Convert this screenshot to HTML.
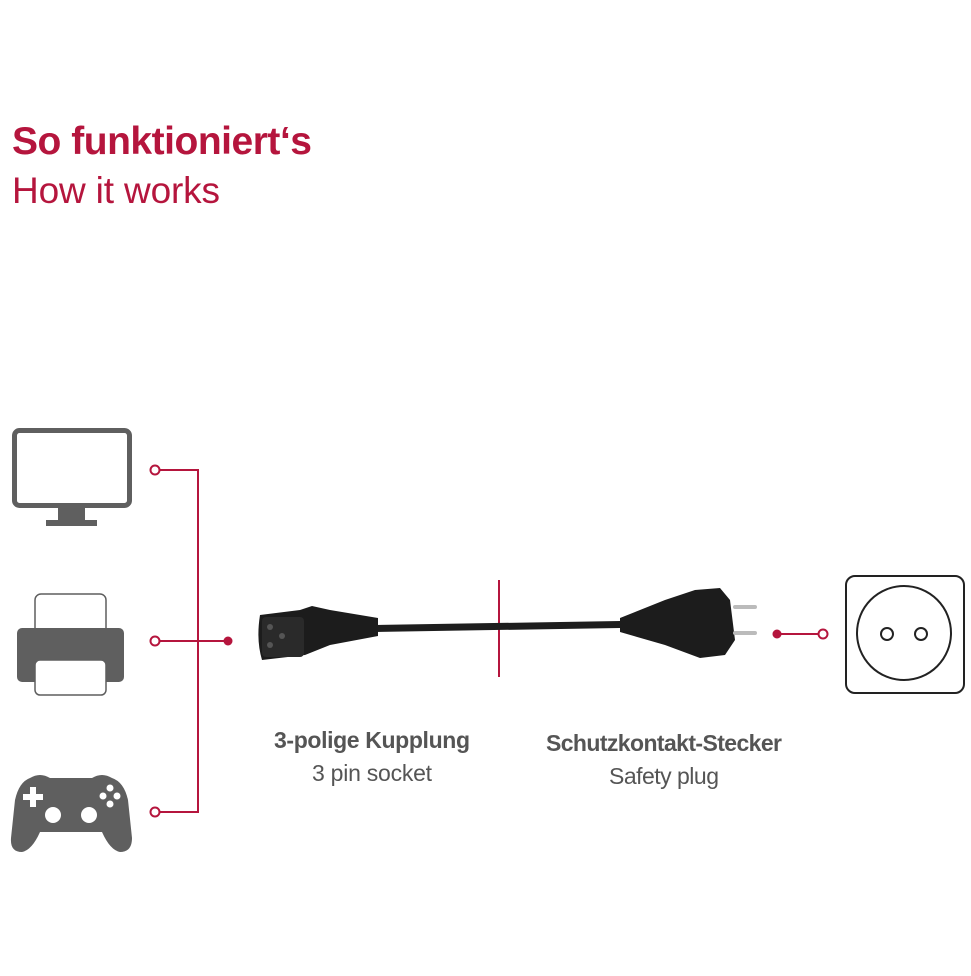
<!DOCTYPE html>
<html><head><meta charset="utf-8"><style>
body{margin:0;background:#fff;width:971px;height:971px;overflow:hidden;font-family:"Liberation Sans",sans-serif}
</style></head><body>
<svg width="971" height="971" viewBox="0 0 971 971" xmlns="http://www.w3.org/2000/svg">
<text x="12" y="154" font-family="Liberation Sans, sans-serif" font-weight="bold" font-size="39" fill="#b5153d" textLength="300">So funktioniert‘s</text>
<text x="12" y="203" font-family="Liberation Sans, sans-serif" font-size="37" fill="#b5153d" textLength="208">How it works</text>
<!-- monitor -->
<rect x="14.5" y="430.5" width="115" height="75" rx="5" fill="none" stroke="#5f5f5f" stroke-width="5"/>
<rect x="58" y="507" width="27" height="13" fill="#5f5f5f"/>
<rect x="46" y="520" width="51" height="6" fill="#5f5f5f"/>
<!-- printer -->
<rect x="35" y="594" width="71" height="45" rx="6" fill="#fff" stroke="#5f5f5f" stroke-width="1.5"/>
<rect x="17" y="628" width="107" height="54" rx="5" fill="#5f5f5f"/>
<rect x="35" y="660" width="71" height="35" rx="5" fill="#fff" stroke="#5f5f5f" stroke-width="1.5"/>
<!-- gamepad -->
<path d="M30 778 Q40 772 50 778 L92 778 Q102 772 112 778 Q124 782 128 800 L132 838 Q132 852 120 852 Q110 850 102 832 L40 832 Q32 850 22 852 Q10 852 11 838 L15 800 Q19 782 30 778 Z" fill="#5f5f5f"/>
<rect x="23" y="794" width="20" height="6" fill="#fff"/><rect x="30" y="787" width="6" height="20" fill="#fff"/>
<circle cx="110" cy="788" r="3.5" fill="#fff"/><circle cx="103" cy="796" r="3.5" fill="#fff"/><circle cx="117" cy="796" r="3.5" fill="#fff"/><circle cx="110" cy="804" r="3.5" fill="#fff"/>
<circle cx="53" cy="815" r="8" fill="#fff"/><circle cx="89" cy="815" r="8" fill="#fff"/>
<!-- connectors -->
<g stroke="#b5153d" stroke-width="2" fill="none">
<path d="M159 470 H198 V812 H159"/>
<path d="M159 641 H228"/>
<path d="M499 580 V677"/>
<path d="M777 634 H819"/>
<circle cx="155" cy="470" r="4.5" fill="#fff"/>
<circle cx="155" cy="641" r="4.5" fill="#fff"/>
<circle cx="155" cy="812" r="4.5" fill="#fff"/>
<circle cx="823" cy="634" r="4.5" fill="#fff"/>
</g>
<circle cx="228" cy="641" r="4.5" fill="#b5153d"/>
<circle cx="777" cy="634" r="4.5" fill="#b5153d"/>
<!-- cable -->
<path d="M375 625 L620 621 L620 628 L375 632 Z" fill="#1e1e1e"/>
<path d="M260 615 L300 610 L312 606 L330 610 L378 618 L378 636 L330 645 L305 655 L262 660 Q256 640 260 615 Z" fill="#1c1c1c"/>
<rect x="262" y="617" width="42" height="40" rx="4" fill="#2a2a2a"/>
<circle cx="270" cy="627" r="3" fill="#555"/><circle cx="270" cy="645" r="3" fill="#555"/><circle cx="282" cy="636" r="3" fill="#555"/>
<path d="M620 618 L665 600 L695 590 L720 588 L730 600 L735 640 L725 655 L700 658 L665 645 L620 632 Z" fill="#1c1c1c"/>
<rect x="733" y="605" width="24" height="4" rx="2" fill="#bbb"/>
<rect x="733" y="631" width="24" height="4" rx="2" fill="#bbb"/>
<!-- socket -->
<rect x="846" y="576" width="118" height="117" rx="9" fill="none" stroke="#222" stroke-width="2"/>
<circle cx="904" cy="633" r="47" fill="none" stroke="#222" stroke-width="2"/>
<circle cx="887" cy="634" r="6" fill="none" stroke="#222" stroke-width="2"/>
<circle cx="921" cy="634" r="6" fill="none" stroke="#222" stroke-width="2"/>
<!-- labels -->
<g font-family="Liberation Sans, sans-serif" font-size="23" fill="#555" text-anchor="middle">
<text x="372" y="748" font-weight="bold" textLength="196">3-polige Kupplung</text>
<text x="372" y="781" textLength="120">3 pin socket</text>
<text x="664" y="751" font-weight="bold" textLength="236">Schutzkontakt-Stecker</text>
<text x="664" y="784" textLength="110">Safety plug</text>
</g>
</svg>
</body></html>
